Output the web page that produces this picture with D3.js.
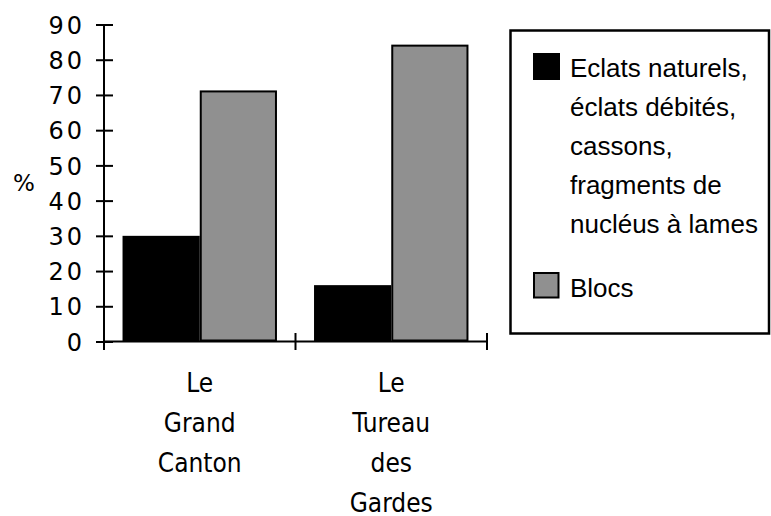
<!DOCTYPE html>
<html>
<head>
<meta charset="utf-8">
<script src="https://cdn.jsdelivr.net/npm/d3@7"></script>
<style>
  html, body { margin: 0; padding: 0; background: #fff; }
  svg { display: block; }
</style>
</head>
<body>
<svg id="chart" width="771" height="516"></svg>
<script>
// Sites and their (multi-line) labels
const sites = ["Le Grand Canton", "Le Tureau des Gardes"];
const siteLabelLines = [["Le", "Grand", "Canton"], ["Le", "Tureau", "des", "Gardes"]];

// Series
const seriesNames = ["eclats", "blocs"];
const seriesLegend = [
  ["Eclats naturels,", "éclats débités,", "cassons,", "fragments de", "nucléus à lames"],
  ["Blocs"]
];
const seriesColors = ["#000000", "#909090"];

// Percentages per site
const eclatsValues = [30, 16];
const blocsValues = [71, 84];

const yTicks = [0, 10, 20, 30, 40, 50, 60, 70, 80, 90];

const svg = d3.select("#chart");

const axisFont = "'DejaVu Sans', Verdana, sans-serif";
const catFont = "'DejaVu Sans Condensed', 'DejaVu Sans', sans-serif";
const legendFont = "'Liberation Sans', Arial, Helvetica, sans-serif";

const x0 = d3.scaleBand().domain(sites).range([104, 487]).padding(0);
const x1 = d3.scaleBand().domain(seriesNames).range([0, x0.bandwidth()])
  .paddingInner(0).paddingOuter(0.24);
const y = d3.scaleLinear().domain([0, 90]).range([341.5, 24.5]);

const rows = sites.map((s, i) => ({
  site: s,
  values: [
    { key: "eclats", value: eclatsValues[i] },
    { key: "blocs", value: blocsValues[i] }
  ]
}));

// Bars
const groups = svg.append("g").selectAll("g")
  .data(rows).join("g")
  .attr("transform", d => `translate(${x0(d.site)},0)`);

groups.selectAll("rect")
  .data(d => d.values).join("rect")
  .attr("x", d => x1(d.key) + (d.key === "blocs" ? 1 : 0))
  .attr("width", d => x1.bandwidth() - (d.key === "blocs" ? 2 : 0))
  .attr("y", d => y(d.value))
  .attr("height", d => y(0) - y(d.value) - (d.key === "blocs" ? 1 : 0))
  .attr("fill", (d, i) => seriesColors[i])
  .attr("stroke", "#000")
  .attr("stroke-width", d => d.key === "blocs" ? 2 : 0);

// Y axis
const yAxis = svg.append("g")
  .attr("transform", `translate(${x0.range()[0]},0)`)
  .call(d3.axisLeft(y).tickValues(yTicks).tickSize(8).tickSizeOuter(0));
yAxis.select(".domain").remove();
yAxis.append("line")
  .attr("x1", 0).attr("x2", 0)
  .attr("y1", y(90)).attr("y2", y(0) + 8.5)
  .attr("stroke", "#000").attr("stroke-width", 2);
yAxis.selectAll(".tick line")
  .attr("x1", -8).attr("x2", 9)
  .attr("stroke", "#000").attr("stroke-width", 2);
yAxis.selectAll(".tick text")
  .attr("x", -19)
  .attr("dy", "0.36em")
  .style("font-family", axisFont)
  .style("font-size", "24px")
  .style("letter-spacing", "3px")
  .attr("fill", "#000");

// "%" axis title
svg.append("text")
  .attr("x", 24).attr("y", y(45))
  .attr("dy", "0.36em")
  .attr("text-anchor", "middle")
  .style("font-family", axisFont)
  .style("font-size", "23px")
  .text("%");

// X axis
const xAxis = svg.append("g");
xAxis.append("line")
  .attr("x1", x0.range()[0]).attr("x2", x0.range()[1])
  .attr("y1", y(0)).attr("y2", y(0))
  .attr("stroke", "#000").attr("stroke-width", 2);
const boundaries = sites.map(s => x0(s)).concat([x0(sites[sites.length - 1]) + x0.bandwidth()]);
xAxis.selectAll("line.tick")
  .data(boundaries.slice(1)).join("line")
  .attr("class", "tick")
  .attr("x1", d => d).attr("x2", d => d)
  .attr("y1", y(0) - 8.5).attr("y2", y(0) + 8.5)
  .attr("stroke", "#000").attr("stroke-width", 2);

// Category labels
const catLabels = svg.append("g").selectAll("text")
  .data(sites).join("text")
  .attr("text-anchor", "middle")
  .style("font-family", catFont)
  .style("font-size", "26px")
  .attr("fill", "#000");
catLabels.selectAll("tspan")
  .data((d, i) => siteLabelLines[i].map(t => ({ t, site: d })))
  .join("tspan")
  .attr("x", d => x0(d.site) + x0.bandwidth() / 2)
  .attr("y", (d, j) => y(0) + 50 + j * 40)
  .text(d => d.t);

// Legend
const legend = svg.append("g");
legend.append("rect")
  .attr("x", 510.5).attr("y", 30.5)
  .attr("width", 258.5).attr("height", 303)
  .attr("fill", "#fff")
  .attr("stroke", "#000").attr("stroke-width", 2.5);

const legendTop = [77, 297];
seriesNames.forEach((name, i) => {
  const base = legendTop[i];
  legend.append("rect")
    .attr("x", i === 0 ? 533 : 534)
    .attr("y", base - 24)
    .attr("width", i === 0 ? 27 : 24.5)
    .attr("height", i === 0 ? 27 : 24.5)
    .attr("fill", seriesColors[i])
    .attr("stroke", "#000")
    .attr("stroke-width", i === 0 ? 0 : 2);
  const t = legend.append("text")
    .style("font-family", legendFont)
    .style("font-size", "26px")
    .attr("fill", "#000");
  t.selectAll("tspan")
    .data(seriesLegend[i]).join("tspan")
    .attr("x", 570)
    .attr("y", (d, j) => base + j * 39)
    .text(d => d);
});
</script>
</body>
</html>
